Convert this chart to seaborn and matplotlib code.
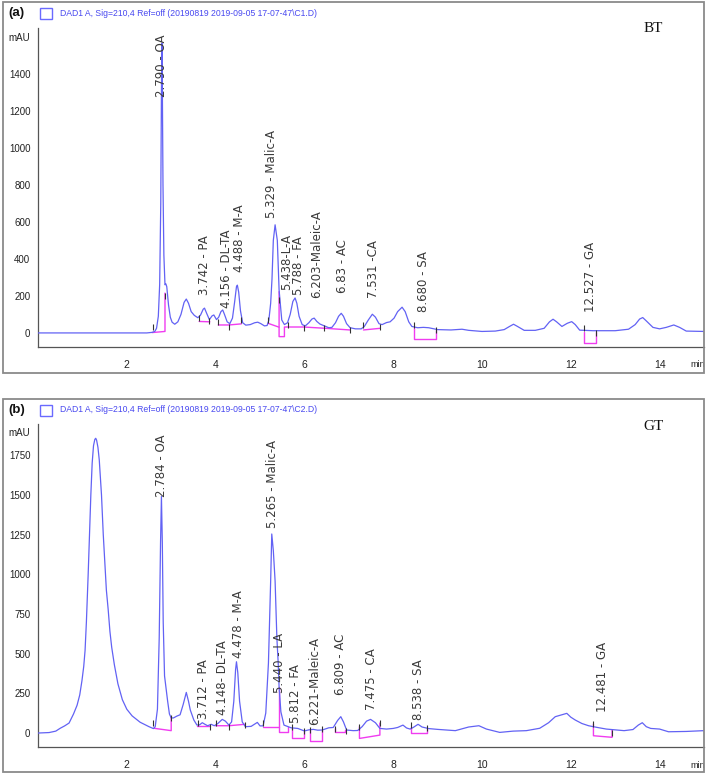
import matplotlib
matplotlib.use("Agg")
import matplotlib.pyplot as plt
import seaborn as sns
import pandas as pd
from matplotlib.patches import Rectangle
from matplotlib.ticker import MultipleLocator, FixedLocator

# ---------------- data ----------------
bt_time = [0, 2.45, 2.57, 2.63, 2.67, 2.71, 2.74, 2.765, 2.78, 2.79, 2.80, 2.815, 2.835, 2.86, 2.88,
           2.90, 2.94, 2.98, 3.02, 3.08, 3.15, 3.22, 3.29, 3.34, 3.39, 3.45, 3.52, 3.60, 3.66, 3.72,
           3.75, 3.80, 3.86, 3.92, 3.96, 4.02, 4.07, 4.12, 4.16, 4.20, 4.26, 4.32, 4.38, 4.43, 4.47,
           4.49, 4.52, 4.56, 4.61, 4.68, 4.78, 4.88, 4.95, 5.02, 5.10, 5.16, 5.20, 5.24, 5.27, 5.30,
           5.34, 5.39, 5.43, 5.49, 5.55, 5.62, 5.68, 5.74, 5.79, 5.83, 5.88, 5.95, 6.02, 6.10, 6.17,
           6.22, 6.28, 6.35, 6.45, 6.55, 6.62, 6.70, 6.77, 6.83, 6.88, 6.95, 7.03, 7.15, 7.28, 7.35,
           7.44, 7.53, 7.60, 7.68, 7.75, 7.85, 7.93, 8.02, 8.10, 8.20, 8.27, 8.35, 8.42, 8.55, 8.68,
           8.80, 9.00, 9.30, 9.55, 9.70, 10.0, 10.3, 10.5, 10.62, 10.71, 10.80, 10.95, 11.2, 11.4,
           11.52, 11.60, 11.68, 11.80, 11.92, 12.02, 12.10, 12.20, 12.5, 13.0, 13.3, 13.45, 13.55,
           13.62, 13.70, 13.85, 14.0, 14.15, 14.32, 14.45, 14.6, 15.0]
bt_mau = [0, 0, 3, 8, 25, 90, 260, 700, 1300, 1565, 1350, 800, 420, 260, 265,
          250, 150, 85, 58, 47, 60, 100, 165, 183, 160, 115, 95, 82, 96, 128,
          134, 105, 72, 92, 97, 72, 85, 115, 124, 100, 60, 50, 80, 170, 250,
          258, 220, 120, 55, 42, 45, 55, 58, 50, 38, 40, 70, 160, 290, 500,
          584, 500, 232, 70, 45, 55, 100, 170, 189, 160, 90, 45, 38, 55, 75,
          80, 62, 48, 38, 28, 30, 55, 90, 106, 90, 50, 28, 22, 22, 35,
          70, 101, 85, 50, 45, 56, 60, 80, 115, 139, 115, 60, 35, 28, 30,
          28, 18, 16, 20, 14, 8, 10, 18, 35, 47, 35, 14, 14, 25,
          60, 74, 60, 35, 52, 61, 45, 15, 12, 12, 20, 45, 75,
          83, 65, 30, 22, 30, 43, 30, 10, 8]

gt_time = [0, 0.25, 0.40, 0.50, 0.60, 0.70, 0.80, 0.88, 0.94, 0.99, 1.03, 1.06, 1.09, 1.11, 1.13,
           1.16, 1.19, 1.22, 1.25, 1.28, 1.30, 1.32, 1.35, 1.38, 1.43, 1.47, 1.51, 1.54, 1.58, 1.62,
           1.66, 1.72, 1.80, 1.90, 2.00, 2.12, 2.30, 2.50,
           2.60, 2.64, 2.69, 2.73, 2.76, 2.78, 2.80, 2.82, 2.85, 2.88, 2.92, 2.96, 3.00, 3.05,
           3.13, 3.20, 3.27, 3.34, 3.39, 3.43, 3.51, 3.58, 3.64, 3.70, 3.76, 3.82, 3.90, 3.97, 4.05,
           4.15, 4.22, 4.30, 4.36, 4.41, 4.45, 4.47, 4.50, 4.54, 4.60, 4.67, 4.80, 4.94, 5.00, 5.07,
           5.13, 5.19, 5.24, 5.265, 5.30, 5.34, 5.38, 5.41, 5.43, 5.47, 5.54, 5.70, 5.85, 6.00, 6.10,
           6.20, 6.30, 6.40, 6.55, 6.65, 6.75, 6.82, 6.88, 6.95, 7.10, 7.20, 7.30, 7.40, 7.49, 7.60,
           7.70, 7.85, 8.00, 8.10, 8.22, 8.30, 8.38, 8.45, 8.56, 8.65, 8.80, 9.00, 9.40, 9.70, 9.93,
           10.1, 10.4, 10.7, 11.0, 11.3, 11.5, 11.65, 11.80, 11.91, 12.0, 12.1, 12.25, 12.4, 12.6,
           12.8, 13.2, 13.4, 13.52, 13.61, 13.70, 13.80, 14.0, 14.2, 14.6, 15.0]
gt_mau = [0, 3, 12, 30, 45, 63, 120, 175, 240, 330, 420, 520, 700, 850, 1000,
          1250, 1500, 1700, 1810, 1850, 1857, 1845, 1800, 1720, 1500, 1250, 1050, 900, 780, 640,
          540, 430, 310, 210, 150, 108, 68, 40,
          28, 40, 150, 600, 1200, 1490, 1200, 700, 360, 290, 200, 120, 95, 95,
          107, 115, 180, 256, 200, 145, 82, 50, 52, 65, 55, 46, 55, 46, 60,
          86, 75, 50, 70, 200, 400, 449, 380, 200, 70, 40, 42, 67, 45, 45,
          126, 441, 958, 1254, 1150, 958, 600, 441, 290, 134, 50, 33, 29, 13, 20,
          23, 18, 19, 33, 35, 80, 103, 70, 19, 15, 16, 40, 75, 86, 65,
          29, 25, 29, 35, 50, 32, 25, 35, 55, 38, 28, 23, 15, 38, 46,
          25, 4, 12, 15, 30, 65, 103, 115, 124, 100, 82, 60, 46, 35,
          25, 15, 22, 50, 65, 40, 29, 25, 8, 10, 15]

# peak annotations
bt_label_text = ["2.790 - OA", "3.742 - PA", "4.156 - DL-TA", "4.488 - M-A", "5.329 - Malic-A",
                 "5.438-L-A", "5.788 - FA", "6.203-Maleic-A", "6.83 - AC", "7.531 -CA",
                 "8.680 - SA", "12.527 - GA"]
bt_label_x = [2.79, 3.74, 4.25, 4.53, 5.27, 5.59, 5.86, 6.27, 6.85, 7.56, 8.69, 12.44]
bt_label_y = [1274, 205, 135, 331, 621, 232, 205, 187, 214, 187, 115, 115]

gt_label_text = ["2.784 - OA", "3.712 - PA", "4.148- DL-TA", "4.478 - M-A", "5.265 - Malic-A",
                 "5.440 - LA", "5.812 - FA", "6.221-Maleic-A", "6.809 - AC", "7.475 - CA",
                 "8.538 - SA", "12.481 - GA"]
gt_label_x = [2.78, 3.72, 4.15, 4.51, 5.28, 5.45, 5.80, 6.24, 6.82, 7.51, 8.58, 12.71]
gt_label_y = [1488, 86, 113, 470, 1290, 250, 61, 50, 240, 145, 82, 134]

# integration baselines (magenta)
bt_baselines = [
    [(2.57, 2), (2.86, 8), (2.86, 215)],
    [(3.63, 62), (3.87, 60)],
    [(4.06, 43), (4.30, 43), (4.58, 49)],
    [(5.18, 52), (5.43, 31)],
    [(5.43, 223), (5.43, -20), (5.55, -20), (5.55, 32), (5.98, 32), (6.47, 25), (7.03, 16)],
    [(7.33, 16), (7.71, 25)],
    [(8.46, 25), (8.46, -32), (8.97, -32), (8.97, 16)],
    [(12.30, 7), (12.30, -56), (12.57, -56), (12.57, 7)],
]
gt_baselines = [
    [(2.61, 30), (3.00, 15), (3.00, 103)],
    [(3.59, 44), (3.87, 44)],
    [(4.00, 46), (4.30, 46), (4.66, 55)],
    [(5.07, 40), (5.43, 40)],
    [(5.43, 292), (5.43, 4), (5.64, 4), (5.64, 40)],
    [(5.73, 29), (5.73, -34), (5.98, -34), (5.98, 13)],
    [(6.12, 19), (6.12, -48), (6.40, -48), (6.40, 19)],
    [(6.68, 33), (6.68, 6), (6.92, 6), (6.92, 20)],
    [(7.24, 40), (7.24, -34), (7.70, -13), (7.70, 63)],
    [(8.39, 40), (8.39, 0), (8.77, 0), (8.77, 29)],
    [(12.51, 57), (12.51, -17), (12.93, -27), (12.93, 19)],
]

# peak start/stop tick marks
bt_mark_t = [2.59, 2.86, 3.63, 3.86, 4.06, 4.31, 4.57, 5.18, 5.43, 5.63, 6.00, 6.45, 7.03, 7.33,
             7.71, 8.46, 8.97, 12.30, 12.57]
bt_mark_y = [32, 200, 81, 65, 59, 32, 70, 70, 178, 43, 27, 27, 16, 43, 32, 43, 16, 27, 0]
gt_mark_t = [2.60, 3.00, 3.61, 3.87, 4.00, 4.30, 4.66, 5.07, 5.73, 5.99, 6.12, 6.40, 6.69, 6.93,
             7.24, 7.70, 8.39, 8.77, 12.51, 12.93]
gt_mark_y = [61, 92, 61, 40, 61, 40, 50, 61, 40, 15, 19, 25, 25, 15, 40, 61, 50, 29, 57, 2]

header_a = "DAD1 A, Sig=210,4 Ref=off (20190819 2019-09-05 17-07-47\\C1.D)"
header_b = "DAD1 A, Sig=210,4 Ref=off (20190819 2019-09-05 17-07-47\\C2.D)"

bt_yticks = [0, 200, 400, 600, 800, 1000, 1200, 1400, 1600]
bt_yticklabels = ["0", "200", "400", "600", "800", "1000", "1200", "1400", "mAU"]
gt_yticks = [0, 250, 500, 750, 1000, 1250, 1500, 1750, 1897]
gt_yticklabels = ["0", "250", "500", "750", "1000", "1250", "1500", "1750", "mAU"]
xticks = [2, 4, 6, 8, 10, 12, 14]

# ---------------- styling ----------------
sns.set_theme(style="white")
plt.rcParams["font.family"] = ["Liberation Sans", "DejaVu Sans"]

W, H = 709, 774
fig = plt.figure(figsize=(W / 100, H / 100), dpi=100)

CURVE = "#6262f4"
PINK = "#f03cf0"
AXC = "#555555"


def fx(px):
    return px / W


def fy(py):
    return 1 - py / H


def panel(ax, time, mau, ltext, lx, ly, segs, mt, my, ylim, yt, ytl, yminor):
    df = pd.DataFrame({"t": time, "mAU": mau})
    sns.lineplot(data=df, x="t", y="mAU", ax=ax, color=CURVE, lw=0.9,
                 estimator=None, sort=False, zorder=3)
    for seg in segs:
        xs = [p[0] for p in seg]
        ys = [p[1] for p in seg]
        ax.plot(xs, ys, color=PINK, lw=1.0, zorder=2)
    ax.plot(mt, my, ls="none", marker="|", ms=5, mew=0.8, color="#333333", zorder=4)
    for s, x, y in zip(ltext, lx, ly):
        ax.text(x, y, s, rotation=90, ha="center", va="bottom", fontsize=8.5,
                family=["DejaVu Sans"], color="#3a3a3a", zorder=5)
    ax.set_xlim(0, 15)
    ax.set_ylim(*ylim)
    ax.set_xlabel("")
    ax.set_ylabel("")
    ax.xaxis.set_major_locator(FixedLocator(xticks))
    ax.xaxis.set_minor_locator(MultipleLocator(0.5))
    ax.yaxis.set_major_locator(FixedLocator(yt))
    ax.set_yticklabels(ytl)
    ax.yaxis.set_minor_locator(MultipleLocator(yminor))
    for sp in ["top", "right"]:
        ax.spines[sp].set_visible(False)
    for sp in ["left", "bottom"]:
        ax.spines[sp].set_color(AXC)
        ax.spines[sp].set_linewidth(0.9)
    ax.tick_params(axis="both", which="both", direction="out", colors=AXC,
                   labelcolor="#222222")
    ax.tick_params(axis="x", which="major", length=5, width=0.8, pad=4, labelsize=7.5)
    ax.tick_params(axis="x", which="minor", length=4, width=0.8)
    ax.tick_params(axis="y", which="major", length=4, width=0.8, pad=1.5, labelsize=7)
    ax.tick_params(axis="y", which="minor", length=2, width=0.6)
    ax.patch.set_alpha(0)
    ax.text(0.991, -0.056, "min", transform=ax.transAxes, ha="center", va="center",
            fontsize=6.5, color="#222222")


# panel (a)
ax_a = fig.add_axes([fx(38), fy(347), fx(704 - 38), (347 - 28) / H])
panel(ax_a, bt_time, bt_mau, bt_label_text, bt_label_x, bt_label_y, bt_baselines,
      bt_mark_t, bt_mark_y, (-76, 1647), bt_yticks, bt_yticklabels, 40)

# panel (b)
ax_b = fig.add_axes([fx(38), fy(747), fx(704 - 38), (747 - 424) / H])
panel(ax_b, gt_time, gt_mau, gt_label_text, gt_label_x, gt_label_y, gt_baselines,
      gt_mark_t, gt_mark_y, (-88, 1947), gt_yticks, gt_yticklabels, 50)

# outer frames, headers
for top, bot, tag, hdr, name in [(2, 373, "(a)", header_a, "BT"), (399, 772, "(b)", header_b, "GT")]:
    fig.add_artist(Rectangle((fx(3), fy(bot)), fx(704 - 3), (bot - top) / H,
                             transform=fig.transFigure, fill=False, ec="#8a8a8a", lw=1.3))
    cy = top + 11
    fig.text(fx(8), fy(cy), tag, ha="left", va="center", fontsize=9.5, fontweight="bold",
             family=["Liberation Sans", "DejaVu Sans"], color="#111111")
    fig.add_artist(Rectangle((fx(40), fy(cy + 6)), fx(12), 11 / H, transform=fig.transFigure,
                             fill=False, ec="#6a6aff", lw=1.0))
    fig.text(fx(60), fy(cy), hdr, ha="left", va="center", fontsize=6.2,
             color="#4848f0")
    fig.text(fx(653), fy(top + 27), name, ha="center", va="center", fontsize=11,
             family=["Liberation Serif", "DejaVu Serif"], color="#111111")

fig.savefig("out.png", dpi=100)
